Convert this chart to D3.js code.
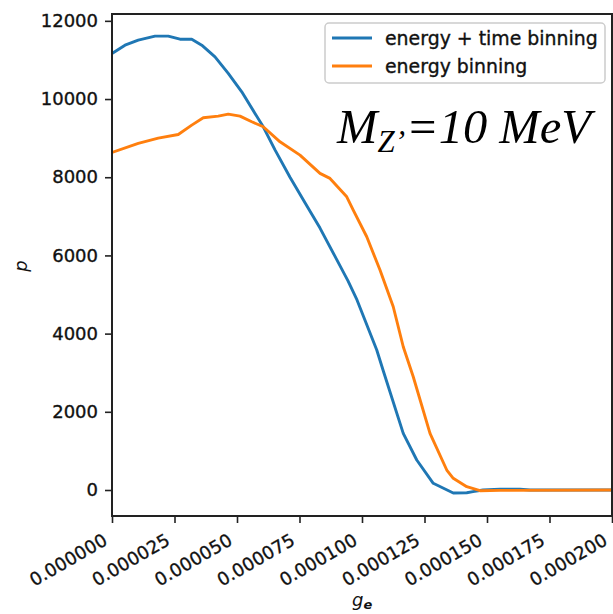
<!DOCTYPE html>
<html>
<head>
<meta charset="utf-8">
<script src="https://cdn.jsdelivr.net/npm/d3@7/dist/d3.min.js"></script>
<style>
  html, body { margin: 0; padding: 0; background: #fff; }
  svg { display: block; }
</style>
</head>
<body>
<svg id="chart" width="613" height="614"></svg>
<script>
// Coupling values g_e and the corresponding p, for each binning scheme
const gTimeBinning = [0, 0.0000052, 0.0000105, 0.0000172, 0.0000225, 0.0000272, 0.0000319, 0.0000359,
  0.0000412, 0.0000465, 0.0000519, 0.0000572, 0.0000605, 0.0000652, 0.0000712, 0.0000772,
  0.0000832, 0.000089, 0.0000944, 0.000098, 0.0001059, 0.0001085, 0.0001165, 0.0001219,
  0.0001285, 0.0001365, 0.0001419, 0.0001444, 0.0001484, 0.0001552, 0.0001632, 0.0001672, 0.0002];
const pTimeBinning = [11166, 11378, 11506, 11608, 11608, 11531, 11531, 11378,
  11080, 10654, 10184, 9632, 9290, 8700, 8000, 7350,
  6700, 6000, 5350, 4860, 3580, 3050, 1449, 767,
  171, -75, -69, -43, 0, 18, 18, 0, 0];

const gEnergyBinning = [0, 0.0000105, 0.0000185, 0.0000265, 0.0000319, 0.0000365, 0.0000425, 0.0000465,
  0.0000512, 0.0000559, 0.0000605, 0.0000672, 0.0000752, 0.0000832, 0.0000872, 0.0000939,
  0.0000965, 0.0001019, 0.0001072, 0.0001125, 0.0001165, 0.0001205, 0.0001272, 0.0001339,
  0.0001365, 0.0001419, 0.0001472, 0.0001552, 0.0002];
const pEnergyBinning = [8634, 8865, 9000, 9094, 9333, 9520, 9563, 9614,
  9563, 9418, 9290, 8906, 8565, 8098, 7970, 7500,
  7159, 6477, 5625, 4687, 3664, 2897, 1449, 511,
  299, 84, -18, -10, 0];

const seriesNames = ["energy + time binning", "energy binning"];
const seriesColors = ["#1f77b4", "#ff7f0e"];

const xTicks = [0, 0.000025, 0.00005, 0.000075, 0.0001, 0.000125, 0.00015, 0.000175, 0.0002];
const yTicks = [0, 2000, 4000, 6000, 8000, 10000, 12000];

const svg = d3.select("#chart");
const plotLeft = 112, plotRight = 612, plotTop = 14, plotBottom = 516;

const x = d3.scaleLinear().domain([0, 0.0002]).range([plotLeft, plotRight]);
const y = d3.scaleLinear().domain([-665, 12175]).range([plotBottom, plotTop]);

const tickFont = "'DejaVu Sans', sans-serif";
const textInk = "#111";

// clip for the data lines
svg.append("defs").append("clipPath").attr("id", "plotClip")
  .append("rect").attr("x", plotLeft).attr("y", plotTop)
  .attr("width", plotRight - plotLeft).attr("height", plotBottom - plotTop);

function styleTickText(sel, size) {
  sel.attr("font-family", tickFont).attr("font-size", size).attr("fill", textInk)
    .attr("stroke", textInk).attr("stroke-width", 0.35);
}

// y axis
const yAxis = d3.axisLeft(y).tickValues(yTicks).tickFormat(d3.format("d")).tickSize(7).tickPadding(7);
const yg = svg.append("g").attr("transform", `translate(${plotLeft},0)`).call(yAxis);
yg.select(".domain").remove();
yg.selectAll("line").attr("stroke", "#222").attr("stroke-width", 1.6);
styleTickText(yg.selectAll("text"), 18);

// x axis with rotated labels
const xAxis = d3.axisBottom(x).tickValues(xTicks).tickFormat(d3.format(".6f")).tickSize(7);
const xg = svg.append("g").attr("transform", `translate(0,${plotBottom})`).call(xAxis);
xg.select(".domain").remove();
xg.selectAll("line").attr("stroke", "#222").attr("stroke-width", 1.6);
styleTickText(xg.selectAll("text"), 18);
xg.selectAll("text")
  .attr("text-anchor", "end")
  .attr("y", 0).attr("dy", "0.73em")
  .attr("transform", "translate(-10.5,16.5) rotate(-30)");

// data lines
const line = d3.line().x(d => x(d[0])).y(d => y(d[1]));
const series = [
  d3.zip(gTimeBinning, pTimeBinning),
  d3.zip(gEnergyBinning, pEnergyBinning)
];
const plot = svg.append("g").attr("clip-path", "url(#plotClip)");
series.forEach((pts, i) => {
  plot.append("path").datum(pts)
    .attr("d", line)
    .attr("fill", "none")
    .attr("stroke", seriesColors[i])
    .attr("stroke-width", 2.9)
    .attr("stroke-linejoin", "round")
    .attr("stroke-linecap", "round");
});

// frame
svg.append("rect")
  .attr("x", plotLeft).attr("y", plotTop)
  .attr("width", plotRight - plotLeft).attr("height", plotBottom - plotTop)
  .attr("fill", "none").attr("stroke", "#222").attr("stroke-width", 2);

// legend
const lg = svg.append("g");
lg.append("rect").attr("x", 325).attr("y", 23).attr("width", 280).attr("height", 60)
  .attr("rx", 4).attr("fill", "#fff").attr("fill-opacity", 0.85)
  .attr("stroke", "#cccccc").attr("stroke-width", 1.5);
seriesNames.forEach((name, i) => {
  const ly = 38 + i * 28;
  lg.append("line").attr("x1", 332).attr("x2", 372).attr("y1", ly).attr("y2", ly)
    .attr("stroke", seriesColors[i]).attr("stroke-width", 2.9);
  const t = lg.append("text").attr("x", 385).attr("y", ly).attr("dy", "0.35em").text(name);
  styleTickText(t, 18.9);
});

// axis labels
const xl = svg.append("text").attr("x", 352).attr("y", 606)
  .attr("font-family", tickFont).attr("font-size", 18).attr("font-style", "italic").attr("fill", textInk);
xl.append("tspan").text("g");
xl.append("tspan").attr("font-size", 13).attr("dy", 3).attr("font-weight", "bold").text("e");

svg.append("text")
  .attr("transform", "translate(27,266) rotate(-90)")
  .attr("text-anchor", "middle")
  .attr("font-family", tickFont).attr("font-size", 18).attr("font-style", "italic").attr("fill", textInk)
  .text("p");

// mass annotation
const ann = svg.append("text").attr("x", 337).attr("y", 143)
  .attr("font-family", "'Liberation Serif', 'Times New Roman', serif")
  .attr("font-style", "italic").attr("font-size", 48.5).attr("fill", "#000");
ann.append("tspan").text("M");
ann.append("tspan").attr("font-size", 31).attr("dy", 9).text("Z\u2019");
ann.append("tspan").attr("dy", -9).attr("dx", 1).text("=10 MeV");
</script>
</body>
</html>
